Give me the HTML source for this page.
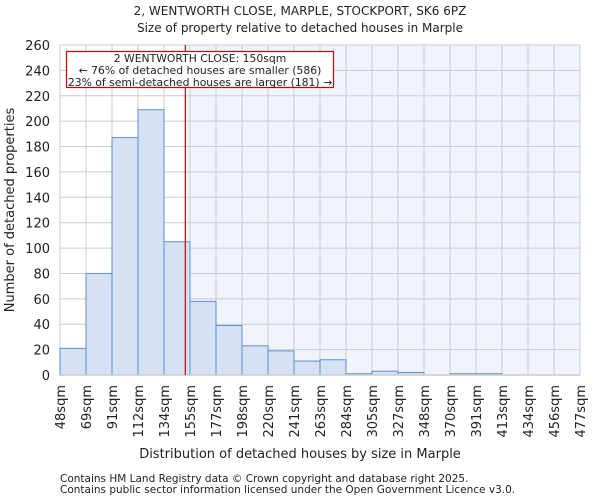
<!DOCTYPE html>
<html><head><meta charset="utf-8"><style>
body{margin:0;background:#fff;font-family:"DejaVu Sans","Liberation Sans",sans-serif;}
svg text{font-family:"DejaVu Sans","Liberation Sans",sans-serif;fill:#222;}
</style></head><body>
<svg id="c" width="600" height="500" xmlns="http://www.w3.org/2000/svg"></svg>
<script>
const binLabels=["48sqm","69sqm","91sqm","112sqm","134sqm","155sqm","177sqm","198sqm","220sqm","241sqm","263sqm","284sqm","305sqm","327sqm","348sqm","370sqm","391sqm","413sqm","434sqm","456sqm","477sqm"];
const counts=[21,80,187,209,105,58,39,23,19,11,12,1,3,2,0,1,1,0,0,0];
const yTicks=[0,20,40,60,80,100,120,140,160,180,200,220,240,260];
const propertyBinPos=[4.82];
const NS="http://www.w3.org/2000/svg";
const svg=document.getElementById('c');
const L=60,R=580,T=45,B=375,yMax=260;
const bw=(R-L)/counts.length;
const xs=i=>L+i*bw;
const ys=v=>B-v/yMax*(B-T);
function mk(t,a,p){const e=document.createElementNS(NS,t);for(const k in a)e.setAttribute(k,a[k]);(p||svg).appendChild(e);return e;}
let e;
e=mk('text',{x:300,y:15,'text-anchor':'middle','font-size':12});e.textContent="2, WENTWORTH CLOSE, MARPLE, STOCKPORT, SK6 6PZ";


e=mk('text',{x:300,y:32,'text-anchor':'middle','font-size':12});e.textContent="Size of property relative to detached houses in Marple";


const px=xs(propertyBinPos[0]);
e=mk('rect',{x:L,y:T,width:px-L,height:B-T,fill:'#ffffff'});


e=mk('rect',{x:px,y:T,width:R-px,height:B-T,fill:'#f0f4fc'});


yTicks.forEach(v=>{
 e=mk('line',{x1:L,x2:R,y1:ys(v),y2:ys(v),stroke:'#ccc','stroke-width':1});
 
 
 e=mk('text',{x:L-10,y:ys(v)+5,'text-anchor':'end','font-size':13});e.textContent=v;
 
 
});
binLabels.forEach((s,i)=>{
 e=mk('line',{x1:xs(i),x2:xs(i),y1:T,y2:B,stroke:'#ccc','stroke-width':1});
 
 
 const x=xs(i);
 e=mk('text',{x:x+5,y:B+10,'text-anchor':'end','font-size':13,transform:`rotate(-90 ${x+5} ${B+10})`});e.textContent=s;
 
 
});
counts.forEach((v,i)=>{
 if(v<=0)return;
 e=mk('rect',{x:xs(i),y:ys(v),width:bw,height:B-ys(v),fill:'#d6e2f3',stroke:'#5b8fd6','stroke-width':1});
 
 
});
e=mk('line',{x1:L,x2:R,y1:B,y2:B,stroke:'#ccc','stroke-width':1.5});


e=mk('line',{x1:px,x2:px,y1:T,y2:B,stroke:'#cc0000','stroke-width':1.2});


const g=mk('g',{});


mk('rect',{x:66.5,y:51.5,width:267,height:36,fill:'#fff',stroke:'#cc0000','stroke-width':1.2},g);
[["2 WENTWORTH CLOSE: 150sqm",62],["← 76% of detached houses are smaller (586)",74],["23% of semi-detached houses are larger (181) →",86]].forEach(([t,y])=>{
 const tx=mk('text',{x:200,y:y,'text-anchor':'middle','font-size':10.8},g);tx.textContent=t;
});
e=mk('text',{x:300,y:458,'text-anchor':'middle','font-size':13});e.textContent="Distribution of detached houses by size in Marple";


e=mk('text',{x:14,y:210,'text-anchor':'middle','font-size':13,transform:'rotate(-90 14 210)'});e.textContent="Number of detached properties";


e=mk('text',{x:60,y:482,'font-size':10.5,fill:'#444'});e.textContent="Contains HM Land Registry data © Crown copyright and database right 2025.";


e=mk('text',{x:60,y:493,'font-size':10.5,fill:'#444'});e.textContent="Contains public sector information licensed under the Open Government Licence v3.0.";


</script>
</body></html>
